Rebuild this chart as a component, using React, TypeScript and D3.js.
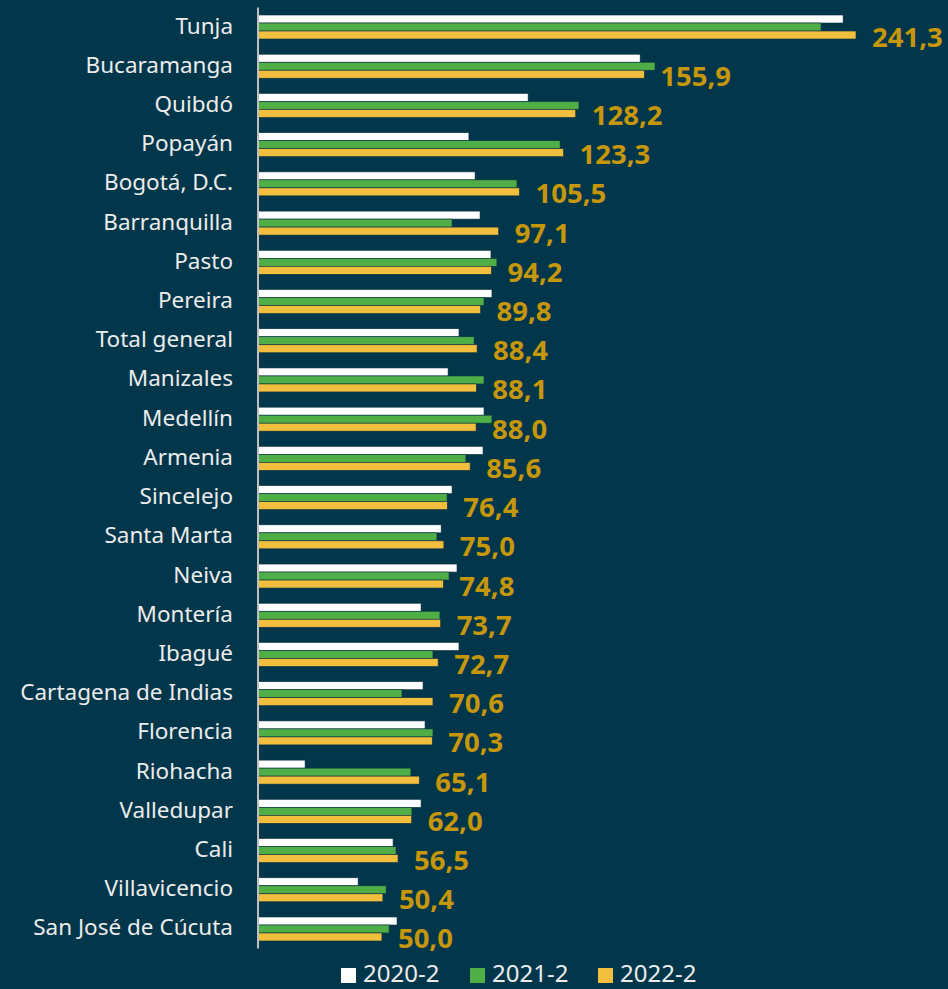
import React from "react";
import * as d3 from "d3";

const cities = [
  "Tunja", "Bucaramanga", "Quibdó", "Popayán", "Bogotá, D.C.", "Barranquilla",
  "Pasto", "Pereira", "Total general", "Manizales", "Medellín", "Armenia",
  "Sincelejo", "Santa Marta", "Neiva", "Montería", "Ibagué",
  "Cartagena de Indias", "Florencia", "Riohacha", "Valledupar", "Cali",
  "Villavicencio", "San José de Cúcuta",
];

const v2020 = [
  236.1, 154.2, 109.0, 85.1, 87.6, 89.6, 94.0, 94.4, 81.1, 76.7, 91.2, 90.8,
  78.3, 73.9, 80.3, 65.8, 81.1, 66.6, 67.4, 19.0, 65.8, 54.5, 40.4, 56.1,
];
const v2021 = [
  227.2, 160.2, 129.5, 121.9, 104.5, 78.3, 96.4, 91.2, 87.2, 91.2, 94.4, 83.9,
  76.3, 72.2, 77.1, 73.4, 70.6, 58.1, 70.6, 61.7, 62.1, 55.7, 51.7, 52.9,
];
const v2022 = [
  241.3, 155.9, 128.2, 123.3, 105.5, 97.1, 94.2, 89.8, 88.4, 88.1, 88.0, 85.6,
  76.4, 75.0, 74.8, 73.7, 72.7, 70.6, 70.3, 65.1, 62.0, 56.5, 50.4, 50.0,
];
const seriesNames = ["2020-2", "2021-2", "2022-2"];

const W = 948;
const H = 989;
const bg = "#02364a";
const colors = ["#ffffff", "#4fae45", "#f2be3d"];
const labelGold = "#c6960b";
const font = "'Noto Sans', sans-serif";

export default function App() {
  const axisX = 258;
  const x = d3.scaleLinear().domain([0, 241.3]).range([axisX, 856]);
  const y = d3.scaleBand().domain(cities).range([7.4, 948.6]).paddingInner(0).paddingOuter(0);
  const inner = d3.scaleBand().domain(seriesNames).range([0, 24]).padding(0);
  const values = [v2020, v2021, v2022];
  const fmt = (v: number) => v.toFixed(1).replace(".", ",");

  return (
    <svg width={W} height={H} style={{ position: "absolute", left: 0, top: 0, background: bg }}>
      <rect x={0} y={0} width={W} height={H} fill={bg} />
      {cities.map((c, i) => {
        const c0 = (y(c) as number) + y.bandwidth() / 2;
        const top = c0 - 12;
        return (
          <g key={c}>
            <text x={233} y={c0 - 2} textAnchor="end" dominantBaseline="central"
              fill="#ececec" fontSize={22.5} fontFamily={font}>{c}</text>
            {seriesNames.map((s, k) => (
              <rect key={s} x={axisX} y={top + (inner(s) as number)}
                width={x(values[k][i]) - axisX} height={inner.bandwidth()}
                fill={colors[k]} stroke="#0a3142" strokeWidth={0.6} />
            ))}
            <text x={x(v2022[i]) + 16}
              y={top + (inner("2022-2") as number) + inner.bandwidth() / 2 + 1}
              dominantBaseline="central" fill={labelGold} fontSize={27.5}
              fontWeight="bold" fontFamily={font}>{fmt(v2022[i])}</text>
          </g>
        );
      })}
      <line x1={axisX} x2={axisX} y1={7.4} y2={948.6} stroke="#bfbfbf" strokeWidth={2} />
      {seriesNames.map((s, k) => {
        const lx = [341, 470, 598][k];
        return (
          <g key={s}>
            <rect x={lx} y={968} width={15} height={15} fill={colors[k]} />
            <text x={lx + 22} y={982} fill="#ececec"
              fontSize={24} fontFamily={font}>{s}</text>
          </g>
        );
      })}
    </svg>
  );
}
